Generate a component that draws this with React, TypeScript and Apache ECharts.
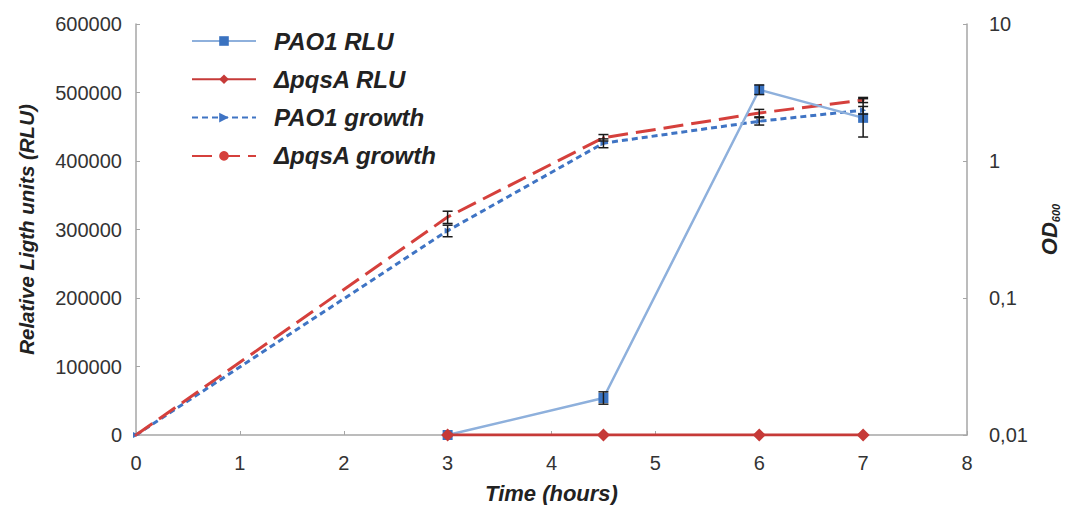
import React, { useEffect, useRef } from "react";
import * as echarts from "echarts";

const timeRLU = [3, 4.5, 6, 7];
const pao1RLU = [0, 54000, 504000, 463000];
const pao1RLUErr = [0, 9000, 7000, 28000];
const pqsaRLU = [0, 0, 0, 0];

const timeGrowth = [0, 3, 4.5, 6, 7];
const pao1Growth = [0.01, 0.31, 1.35, 1.95, 2.35];
const pao1GrowthErr = [0, 0.03, 0.1, 0.12, 0.15];
const pqsaGrowth = [0.01, 0.39, 1.48, 2.24, 2.79];
const pqsaGrowthErr = [0, 0.04, 0.08, 0.14, 0.12];

const names = ["PAO1 RLU", "ΔpqsA RLU", "PAO1 growth", "ΔpqsA growth"];

const FONT = "Liberation Sans, Arial, sans-serif";

function pairs(xs: number[], ys: number[]) {
  return xs.map((x, i) => [x, ys[i]]);
}
function errTriples(xs: number[], ys: number[], es: number[]) {
  return xs
    .map((x, i) => [x, ys[i], es[i]])
    .filter((d) => d[2] > 0);
}

function errorSeries(data: number[][], yAxisIndex: number) {
  return {
    type: "custom",
    yAxisIndex,
    z: 5,
    silent: true,
    data,
    renderItem: (params: any, api: any) => {
      const x = api.value(0);
      const y = api.value(1);
      const e = api.value(2);
      const top = api.coord([x, y + e]);
      const bot = api.coord([x, y - e]);
      const w = 5;
      const style = { stroke: "#1a1a1a", lineWidth: 1.5 };
      return {
        type: "group",
        children: [
          { type: "line", shape: { x1: top[0], y1: top[1], x2: bot[0], y2: bot[1] }, style },
          { type: "line", shape: { x1: top[0] - w, y1: top[1], x2: top[0] + w, y2: top[1] }, style },
          { type: "line", shape: { x1: bot[0] - w, y1: bot[1], x2: bot[0] + w, y2: bot[1] }, style },
        ],
      };
    },
  };
}

export default function App() {
  const ref = useRef<HTMLDivElement>(null);
  useEffect(() => {
    if (!ref.current) return;
    const chart = echarts.init(ref.current, null, { renderer: "svg" });
    const axisLabel = { fontSize: 20, color: "#333", fontFamily: FONT };
    const axisLine = { show: true, lineStyle: { color: "#a6a6a6", width: 1.5 } };
    const nameStyle = { fontWeight: "bold", fontStyle: "italic", color: "#222", fontFamily: FONT };
    chart.setOption({
      animation: false,
      backgroundColor: "#fff",
      grid: { left: 136, right: 102, top: 24, bottom: 70, containLabel: false, outerBoundsMode: "none" },
      legend: {
        data: names,
        orient: "vertical",
        left: 186,
        top: 24,
        itemWidth: 64,
        itemHeight: 12,
        itemGap: 14.3,
        textStyle: {
          fontSize: 24,
          fontWeight: "bold",
          fontStyle: "italic",
          color: "#222",
          fontFamily: FONT,
          padding: [0, 0, 0, 13],
        },
      },
      xAxis: {
        type: "value",
        min: 0,
        max: 8,
        interval: 1,
        name: "Time (hours)",
        nameLocation: "middle",
        nameGap: 47,
        nameTextStyle: { ...nameStyle, fontSize: 22 },
        axisLine,
        axisTick: { show: true, inside: true, length: 4, lineStyle: { color: "#a6a6a6" } },
        axisLabel: { ...axisLabel, margin: 18 },
        splitLine: { show: false },
      },
      yAxis: [
        {
          type: "value",
          min: 0,
          max: 600000,
          interval: 100000,
          name: "Relative Ligth units (RLU)",
          nameLocation: "middle",
          nameGap: 100,
          nameTextStyle: { ...nameStyle, fontSize: 20.5 },
          axisLine,
          axisTick: { show: true, inside: true, length: 4, lineStyle: { color: "#a6a6a6" } },
          axisLabel: { ...axisLabel, margin: 14, formatter: (v: number) => String(v) },
          splitLine: { show: false },
        },
        {
          type: "log",
          logBase: 10,
          min: 0.01,
          max: 10,
          position: "right",
          name: "{a|OD}{b|600}",
          nameLocation: "middle",
          nameGap: 70,
          nameRotate: 90,
          nameTextStyle: {
            ...nameStyle,
            fontSize: 21,
            rich: {
              a: { fontSize: 22, fontWeight: "bold", fontStyle: "italic", color: "#222", fontFamily: FONT },
              b: { fontSize: 11, fontWeight: "bold", fontStyle: "italic", color: "#222", fontFamily: FONT, padding: [12, 0, 0, 0] },
            },
          },
          axisLine,
          axisTick: { show: true, inside: true, length: 4, lineStyle: { color: "#a6a6a6" } },
          axisLabel: {
            ...axisLabel,
            margin: 22,
            formatter: (v: number) => String(Number(v.toPrecision(6))).replace(".", ","),
          },
          splitLine: { show: false },
          minorTick: { show: false },
        },
      ],
      series: [
        {
          name: names[0],
          type: "line",
          yAxisIndex: 0,
          data: pairs(timeRLU, pao1RLU),
          symbol: "rect",
          symbolSize: 10,
          z: 3,
          lineStyle: { color: "#8eb0dc", width: 2.5 },
          itemStyle: { color: "#3a72c0" },
        },
        {
          name: names[1],
          type: "line",
          yAxisIndex: 0,
          data: pairs(timeRLU, pqsaRLU),
          symbol: "diamond",
          symbolSize: 13,
          z: 4,
          lineStyle: { color: "#c63a38", width: 3 },
          itemStyle: { color: "#c63a38" },
        },
        {
          name: names[2],
          type: "line",
          yAxisIndex: 1,
          data: pairs(timeGrowth, pao1Growth),
          symbol: "triangle",
          symbolRotate: -90,
          symbolSize: 6,
          z: 2,
          lineStyle: { color: "#3f74c4", width: 3, type: [6, 4] },
          itemStyle: { color: "#3f74c4" },
        },
        {
          name: names[3],
          type: "line",
          yAxisIndex: 1,
          data: pairs(timeGrowth, pqsaGrowth),
          symbol: "circle",
          symbolSize: 3,
          z: 2,
          lineStyle: { color: "#d5403c", width: 3, type: [20, 8] },
          itemStyle: { color: "#d5403c" },
        },
        errorSeries(errTriples(timeRLU, pao1RLU, pao1RLUErr), 0),
        errorSeries(errTriples(timeGrowth, pao1Growth, pao1GrowthErr), 1),
        errorSeries(errTriples(timeGrowth, pqsaGrowth, pqsaGrowthErr), 1),
      ],
    });
    return () => chart.dispose();
  }, []);
  return <div ref={ref} style={{ width: 1069, height: 505, position: "absolute", left: 0, top: 0 }} />;
}
